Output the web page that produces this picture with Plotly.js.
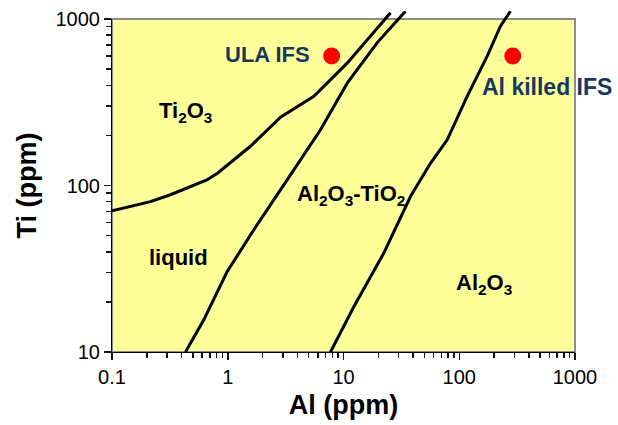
<!DOCTYPE html>
<html>
<head>
<meta charset="utf-8">
<script src="https://cdn.plot.ly/plotly-3.0.1.min.js"></script>
<style>html,body{margin:0;padding:0;background:#fff;}#chart{width:618px;height:425px;}</style>
</head>
<body>
<div id="chart"></div>
<script>
// Phase boundary 1: Ti2O3 / liquid and Ti2O3 / Al2O3-TiO2
const boundaryA_Al = [0.1, 0.215, 0.32, 0.66, 0.82, 1.57, 2.86, 5.54, 10.8, 16.0, 25.5];
const boundaryA_Ti = [70.5, 80, 88, 108, 119, 172, 257, 343, 545, 753, 1090];
// Phase boundary 2: liquid / Al2O3-TiO2
const boundaryB_Al = [0.4315, 0.621, 0.989, 1.68, 3.26, 6.33, 10.8, 19.5, 34.3];
const boundaryB_Ti = [10, 15.6, 30.4, 54.2, 108, 216, 413, 719, 1114];
// Phase boundary 3: Al2O3-TiO2 / Al2O3
const boundaryC_Al = [7.72, 12.28, 22.3, 37.9, 56.4, 78.7, 117, 174, 227, 277];
const boundaryC_Ti = [10, 18.7, 39.3, 85.9, 136, 188, 343, 597, 905, 1114];
// Steel grades
const steelNames = ["ULA IFS", "Al killed IFS"];
const steelAl = [7.9, 290];
const steelTi = [600, 600];
// Region labels
const regionNames = ["<b>Ti<sub>2</sub>O<sub>3</sub></b>", "<b>liquid</b>", "<b>Al<sub>2</sub>O<sub>3</sub>-TiO<sub>2</sub></b>", "<b>Al<sub>2</sub>O<sub>3</sub></b>"];
const regionAl = [0.431, 0.375, 11.7, 165];
const regionTi = [278, 37.2, 88, 25.6];
// Tick labels
const xTickVals = [0.1, 1, 10, 100, 1000];
const xTickText = ["0.1", "1", "10", "100", "1000"];
const yTickVals = [10, 100, 1000];
const yTickText = ["10", "100", "1000"];

// minor tick positions (2..9 within each decade)
function minorTicks(decades) {
  const out = [];
  decades.forEach(function (d) { for (let k = 2; k <= 9; k++) out.push(k * d); });
  return out;
}
const xMinor = minorTicks([0.1, 1, 10, 100]);
const yMinor = minorTicks([10, 100]);

const FONT = "Liberation Sans, Arial, sans-serif";
const lineStyle = {color: "#000000", width: 3};

// geometry: main plot area height 333 px, line layer extends a bit higher
const TOP = 11, BOTTOM = 73;
const plotH = 425 - TOP - BOTTOM;       // 341
const mainH = 333;
const yDomTop = mainH / plotH;
const y2Top = 1 + 2 * plotH / mainH;    // log range top of extended layer

const traces = [
  {x: boundaryA_Al, y: boundaryA_Ti, xaxis: "x", yaxis: "y2", mode: "lines", line: lineStyle},
  {x: boundaryB_Al, y: boundaryB_Ti, xaxis: "x", yaxis: "y2", mode: "lines", line: lineStyle},
  {x: boundaryC_Al, y: boundaryC_Ti, xaxis: "x", yaxis: "y2", mode: "lines", line: lineStyle},
  {x: steelAl, y: steelTi, xaxis: "x", yaxis: "y", mode: "markers", marker: {color: "#FF0000", size: 17}},
  // empty trace that attaches the minor-tick axes
  {x: [], y: [], xaxis: "x3", yaxis: "y3", mode: "markers"}
];

const annotations = [];
annotations.push({x: Math.log10(steelAl[0]), y: Math.log10(steelTi[0]), xref: "x", yref: "y",
  text: "<b>" + steelNames[0] + "</b>", showarrow: false, xanchor: "right", xshift: -20, yshift: 1,
  font: {family: FONT, size: 22, color: "#17375E"}});
annotations.push({x: Math.log10(steelAl[1]), y: Math.log10(steelTi[1]), xref: "x", yref: "y",
  text: "<b>" + steelNames[1] + "</b>", showarrow: false, xanchor: "center", xshift: 34, yshift: -31,
  font: {family: FONT, size: 23, color: "#17375E"}});
for (let i = 0; i < regionNames.length; i++) {
  annotations.push({x: Math.log10(regionAl[i]), y: Math.log10(regionTi[i]), xref: "x", yref: "y",
    text: regionNames[i], showarrow: false, xanchor: "center", yanchor: "middle",
    font: {family: FONT, size: 22, color: "#000000"}});
}

const layout = {
  width: 618, height: 425,
  margin: {l: 112, r: 43, t: TOP, b: BOTTOM, pad: 0},
  plot_bgcolor: "rgba(0,0,0,0)",
  showlegend: false,
  xaxis: {
    type: "log", range: [-1, 3], autorange: false, anchor: "y",
    tickmode: "array", tickvals: xTickVals, ticktext: xTickText,
    ticks: "outside", ticklen: 7, tickwidth: 1.5, tickcolor: "#111111",
    showgrid: false, zeroline: false,
    showline: true, linecolor: "#000000", linewidth: 1,
    tickfont: {family: FONT, size: 20, color: "#000"},
    title: {text: "<b>Al (ppm)</b>", font: {family: FONT, size: 27, color: "#000"}, standoff: 8},
    automargin: false
  },
  yaxis: {
    type: "log", range: [1, 3], autorange: false, domain: [0, yDomTop], anchor: "x",
    tickmode: "array", tickvals: yTickVals, ticktext: yTickText,
    ticks: "outside", ticklen: 7, tickwidth: 1.5, tickcolor: "#111111",
    showgrid: false, zeroline: false,
    showline: true, linecolor: "#000000", linewidth: 1,
    tickfont: {family: FONT, size: 20, color: "#000"},
    title: {text: "<b>Ti (ppm)</b>", font: {family: FONT, size: 27, color: "#000"}, standoff: 11},
    automargin: false
  },
  yaxis2: {
    type: "log", range: [1, y2Top], autorange: false, domain: [0, 1], anchor: "x",
    visible: false, showgrid: false, zeroline: false
  },
  xaxis3: {
    type: "log", range: [-1, 3], autorange: false, overlaying: "x", anchor: "y", side: "bottom",
    tickmode: "array", tickvals: xMinor, ticks: "outside", ticklen: 5, tickwidth: 1.5, tickcolor: "#111111",
    showticklabels: false, showgrid: false, zeroline: false, showline: false, automargin: false
  },
  yaxis3: {
    type: "log", range: [1, 3], autorange: false, overlaying: "y", anchor: "x", side: "left",
    tickmode: "array", tickvals: yMinor, ticks: "outside", ticklen: 5, tickwidth: 1.5, tickcolor: "#111111",
    showticklabels: false, showgrid: false, zeroline: false, showline: false, automargin: false
  },
  shapes: [{type: "rect", xref: "x domain", yref: "y domain", x0: 0, x1: 1, y0: 0, y1: 1,
    fillcolor: "#FFFF99", line: {color: "#8C8C8C", width: 2}, layer: "below"}],
  annotations: annotations
};

Plotly.newPlot("chart", traces, layout, {staticPlot: true, displayModeBar: false});
</script>
</body>
</html>
